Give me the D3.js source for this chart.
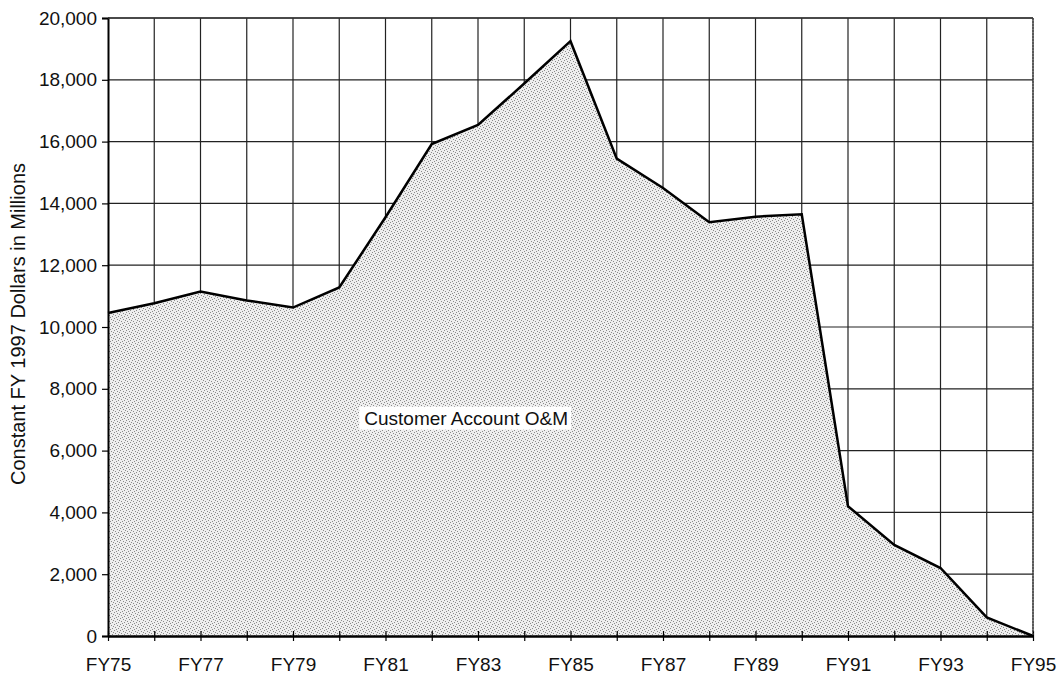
<!DOCTYPE html>
<html>
<head>
<meta charset="utf-8">
<script src="https://cdn.jsdelivr.net/npm/d3@7"></script>
<style>
  body { margin: 0; background: #fff; }
  text { font-family: "Liberation Sans", Arial, sans-serif; fill: #111; }
</style>
</head>
<body>
<svg id="chart"></svg>
<script>
const width = 1062, height = 683;
const margin = { top: 18, right: 29, bottom: 47, left: 108 };

// Fiscal years and values (constant FY 1997 dollars, millions)
const years = ["FY75", "FY76", "FY77", "FY78", "FY79", "FY80", "FY81", "FY82", "FY83", "FY84",
               "FY85", "FY86", "FY87", "FY88", "FY89", "FY90", "FY91", "FY92", "FY93", "FY94", "FY95"];
const values = [10450, 10770, 11150, 10860, 10630, 11280, 13550, 15920, 16540, 17880,
                19250, 15450, 14500, 13390, 13570, 13650, 4200, 2950, 2200, 600, 0];
const yTicks = [0, 2000, 4000, 6000, 8000, 10000, 12000, 14000, 16000, 18000, 20000];
const xLabels = ["FY75", "FY77", "FY79", "FY81", "FY83", "FY85", "FY87", "FY89", "FY91", "FY93", "FY95"];
const seriesLabel = "Customer Account O&M";
const yTitle = "Constant FY 1997 Dollars in Millions";

const data = years.map((y, i) => ({ year: y, value: values[i] }));

const svg = d3.select("#chart")
  .attr("width", width)
  .attr("height", height);

const x = d3.scalePoint()
  .domain(years)
  .range([margin.left, width - margin.right]);

const y = d3.scaleLinear()
  .domain([0, 20000])
  .range([height - margin.bottom, margin.top]);

// stipple pattern for the area
const defs = svg.append("defs");
const pat = defs.append("pattern")
  .attr("id", "stipple")
  .attr("patternUnits", "userSpaceOnUse")
  .attr("width", 6)
  .attr("height", 6);
pat.append("rect").attr("width", 6).attr("height", 6).attr("fill", "#eeeeee");
[[0, 0], [3, 1], [1, 3], [4, 4], [2, 5], [5, 2]].forEach(p => {
  pat.append("rect")
    .attr("x", p[0]).attr("y", p[1])
    .attr("width", 1).attr("height", 1)
    .attr("fill", "#8a8a8a");
});

////////////////////////////////////
//            Grid                //
////////////////////////////////////

svg.append("g")
  .selectAll("line.hgrid")
  .data(yTicks.filter(d => d > 0))
  .enter()
  .append("line")
  .attr("x1", margin.left)
  .attr("x2", width - margin.right)
  .attr("y1", d => y(d))
  .attr("y2", d => y(d))
  .attr("stroke", "#222")
  .attr("stroke-width", 1.2);

svg.append("g")
  .selectAll("line.vgrid")
  .data(years.slice(1))
  .enter()
  .append("line")
  .attr("x1", d => x(d))
  .attr("x2", d => x(d))
  .attr("y1", y(0))
  .attr("y2", y(20000))
  .attr("stroke", "#222")
  .attr("stroke-width", 1.2);

////////////////////////////////////
//            Area                //
////////////////////////////////////

const area = d3.area()
  .x(d => x(d.year))
  .y0(y(0))
  .y1(d => y(d.value));

const line = d3.line()
  .x(d => x(d.year))
  .y(d => y(d.value));

svg.append("path")
  .datum(data)
  .attr("d", area)
  .attr("fill", "url(#stipple)");

svg.append("path")
  .datum(data)
  .attr("d", line)
  .attr("fill", "none")
  .attr("stroke", "#000")
  .attr("stroke-width", 2.5)
  .attr("stroke-linejoin", "miter");

////////////////////////////////////
//            Axes                //
////////////////////////////////////

const yAxis = svg.append("g")
  .attr("transform", `translate(${margin.left},0)`)
  .call(d3.axisLeft(y).tickValues(yTicks).tickSize(6).tickPadding(5).tickFormat(d3.format(",")));
yAxis.select(".domain").attr("stroke", "#000").attr("stroke-width", 2);
yAxis.selectAll(".tick line").attr("stroke", "#000").attr("stroke-width", 1.2);
yAxis.selectAll("text").style("font-size", "19px").attr("fill", "#111");

const xAxis = svg.append("g")
  .attr("transform", `translate(0,${y(0)})`)
  .call(d3.axisBottom(x).tickSizeInner(5).tickSizeOuter(0).tickPadding(17)
    .tickFormat(d => xLabels.includes(d) ? d : ""));
xAxis.select(".domain").attr("stroke", "#000").attr("stroke-width", 2.5);
xAxis.selectAll(".tick line").attr("y1", -5).attr("stroke", "#000").attr("stroke-width", 1.2);
xAxis.selectAll("text").style("font-size", "19px").attr("fill", "#111");

// top and right border
svg.append("line")
  .attr("x1", margin.left).attr("x2", width - margin.right)
  .attr("y1", y(20000)).attr("y2", y(20000))
  .attr("stroke", "#333").attr("stroke-width", 1.5);
svg.append("line")
  .attr("x1", width - margin.right).attr("x2", width - margin.right)
  .attr("y1", y(20000)).attr("y2", y(0))
  .attr("stroke", "#444").attr("stroke-width", 1.2)
  .attr("stroke-dasharray", "2,1");

////////////////////////////////////
//            Labels              //
////////////////////////////////////

svg.append("text")
  .attr("transform", `translate(25,${(y(0) + y(20000)) / 2 - 3}) rotate(-90)`)
  .attr("text-anchor", "middle")
  .style("font-size", "20px")
  .text(yTitle);

const lblG = svg.append("g");
const lblBg = lblG.append("rect").attr("fill", "#fff");
const lbl = lblG.append("text")
  .attr("x", x("FY80") + 25)
  .attr("y", y(7000))
  .attr("dominant-baseline", "middle")
  .style("font-size", "19px")
  .text(seriesLabel);
const bb = lbl.node().getBBox();
lblBg
  .attr("x", bb.x - 5).attr("y", bb.y - 1)
  .attr("width", bb.width + 8).attr("height", bb.height + 2);
</script>
</body>
</html>
